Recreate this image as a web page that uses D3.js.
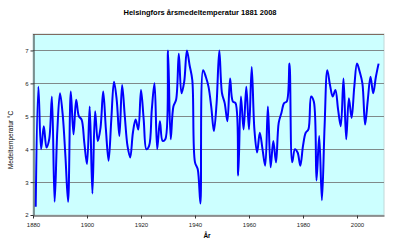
<!DOCTYPE html>
<html>
<head>
<meta charset="utf-8">
<script src="https://cdn.jsdelivr.net/npm/d3@7"></script>
<style>
  body { margin: 0; background: #fff; }
  text { font-family: "Liberation Sans", Arial, sans-serif; }
</style>
</head>
<body>
<div id="chart"></div>
<script>
// Helsingfors årsmedeltemperatur, 1881-2008
var years = d3.range(1881, 2009);
var temps = [
  2.25, 5.9, 4.0, 4.7, 4.05, 4.3, 5.6, 2.4, 4.55, 5.7,        // 1881-1890
  5.05, 3.8, 2.4, 5.75, 4.45, 5.5, 5.0, 4.9, 4.2, 3.55,       // 1891-1900
  5.3, 2.65, 5.15, 4.25, 4.65, 5.75, 4.6, 3.65, 4.9, 6.05,    // 1901-1910
  5.5, 4.4, 5.95, 5.0, 4.1, 3.75, 4.5, 4.9, 4.6, 5.8,         // 1911-1920
  4.9, 4.0, 4.1, 5.2, 6.0, 4.0, 4.85, 4.25, 4.3, 7.0,         // 1921-1930
  4.3, 5.3, 5.5, 6.9, 5.7, 6.05, 7.0, 6.55, 6.1, 3.6,         // 1931-1940
  3.4, 2.35, 6.4, 6.2, 5.9, 5.3, 4.55, 5.4, 7.0, 5.7,         // 1941-1950
  5.4, 4.85, 6.15, 5.45, 5.4, 3.2, 5.6, 4.6, 5.9, 4.6,        // 1951-1960
  6.5, 4.6, 3.9, 4.5, 4.0, 3.5, 5.3, 3.45, 4.25, 3.6,         // 1961-1970
  4.8, 5.1, 5.4, 5.45, 6.6, 3.6, 4.0, 3.9, 3.5, 4.1,          // 1971-1980
  4.5, 4.6, 5.6, 5.45, 3.05, 4.4, 2.45, 4.7, 6.4, 5.95,       // 1981-1990
  5.6, 5.8, 5.2, 4.7, 6.15, 4.3, 5.55, 4.95, 5.9, 6.6,        // 1991-2000
  6.35, 6.0, 4.75, 5.5, 6.2, 5.7, 6.2, 6.6                    // 2001-2008
];
var xTicks = [1880, 1900, 1920, 1940, 1960, 1980, 2000];
var yTicks = [2, 3, 4, 5, 6, 7];

var width = 400, height = 247;
var plotLeft = 33, plotRight = 384, plotTop = 34, plotBottom = 215;

var svg = d3.select("#chart").append("svg")
  .attr("width", width)
  .attr("height", height);

var x = d3.scaleLinear().domain([1880, 2010]).range([plotLeft, plotRight]);
var y = d3.scaleLinear().domain([2, 7.5]).range([plotBottom, plotTop]);

// plot bakgrund
svg.append("rect")
  .attr("x", plotLeft).attr("y", plotTop)
  .attr("width", plotRight - plotLeft).attr("height", plotBottom - plotTop)
  .attr("fill", "#ccffff")
  .attr("stroke", "#c0d8d8")
  .attr("stroke-width", 1);

// stödlinjer
svg.selectAll(".grid")
  .data(yTicks.filter(function(d) { return d > 2; }))
  .enter().append("line")
  .attr("x1", plotLeft).attr("x2", plotRight)
  .attr("y1", function(d) { return Math.round(y(d)) + 0.5; })
  .attr("y2", function(d) { return Math.round(y(d)) + 0.5; })
  .attr("stroke", "#7f8a8a")
  .attr("stroke-width", 1);

// övre kant
svg.append("line")
  .attr("x1", plotLeft).attr("x2", plotRight)
  .attr("y1", plotTop + 0.5).attr("y2", plotTop + 0.5)
  .attr("stroke", "#806a60");

// temperaturkurva
var line = d3.line()
  .x(function(d, i) { return x(years[i]); })
  .y(function(d) { return y(d); })
  .curve(d3.curveCatmullRom.alpha(0.5));

svg.append("path")
  .datum(temps)
  .attr("fill", "none")
  .attr("stroke", "#0000ff")
  .attr("stroke-width", 2)
  .attr("d", line);

// axlar
var xAxis = d3.axisBottom(x).tickValues(xTicks).tickSize(3).tickSizeOuter(0)
  .tickFormat(d3.format("d"));
var yAxis = d3.axisLeft(y).tickValues(yTicks).tickSize(3).tickSizeOuter(0)
  .tickFormat(d3.format("d"));

var gx = svg.append("g")
  .attr("transform", "translate(0," + (plotBottom + 0.5) + ")")
  .call(xAxis);
gx.select(".domain").attr("stroke", "#333");
gx.selectAll(".tick line").attr("stroke", "#333");
gx.selectAll("text").attr("font-size", 6).attr("fill", "#222").attr("dy", "0.9em");

var gy = svg.append("g")
  .attr("transform", "translate(" + (plotLeft + 0.5) + ",0)")
  .call(yAxis);
gy.select(".domain").attr("stroke", "#333");
gy.selectAll(".tick line").attr("stroke", "#333");
gy.selectAll("text").attr("font-size", 6).attr("fill", "#222").attr("x", -5);

// titel och etiketter
svg.append("text")
  .attr("x", 200).attr("y", 15)
  .attr("text-anchor", "middle")
  .attr("font-size", 7.5)
  .attr("font-weight", "bold")
  .text("Helsingfors årsmedeltemperatur 1881 2008");

svg.append("text")
  .attr("transform", "translate(13,140) rotate(-90)")
  .attr("text-anchor", "middle")
  .attr("font-size", 6.5)
  .text("Medeltemperatur °C");

svg.append("text")
  .attr("x", 207).attr("y", 238)
  .attr("text-anchor", "middle")
  .attr("font-size", 6.5)
  .attr("font-weight", "bold")
  .text("År");
</script>
</body>
</html>
